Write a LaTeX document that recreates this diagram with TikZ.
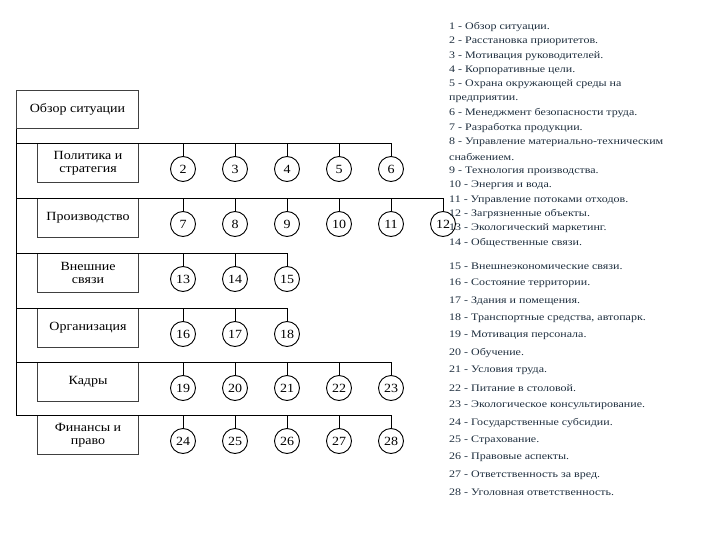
\documentclass[tikz,border=0pt]{standalone}
\usepackage{fontspec}
\setmainfont{Liberation Serif}
\newfontfamily\listfont{Liberation Serif}[FakeStretch=1.2]
\newfontfamily\boxfont{Liberation Serif}[FakeStretch=1.12]
\usetikzlibrary{positioning}
\definecolor{listtext}{HTML}{1E2E3E}

\begin{document}
\begin{tikzpicture}[x=1pt, y=-1pt,
    block/.style={rectangle, draw=black!75, line width=1.1pt, minimum width=101pt, minimum height=39pt, align=center, inner sep=2pt, font=\boxfont\fontsize{12.5}{13}\selectfont},
    num/.style={circle, draw, line width=0.9pt, minimum size=25pt, inner sep=0pt, font=\boxfont\fontsize{12.5}{13}\selectfont},
    link/.style={line width=0.9pt},
    item/.style={anchor=west, inner sep=0pt, text=listtext, font=\listfont\fontsize{10}{11}\selectfont}
]

\useasboundingbox (0,0) rectangle (720,540);

% Overview block and spine
\node[block, minimum width=122pt, minimum height=38pt, anchor=north west] (overview) at (16,90) {Обзор ситуации};

% Row blocks
\foreach \y/\name/\txt in {143/policy/{Политика и\\стратегия}, 198/prod/{Производство}, 253/ext/{Внешние\\связи}, 308/org/{Организация}, 362/staff/{Кадры}, 415/fin/{Финансы и\\право}}
  \node[block, anchor=north west] (\name) at (37,\y) {\txt};

% Rows of numbered circles
\foreach \y/\first/\last [count=\r] in {143/2/6, 198/7/12, 253/13/15, 308/16/18, 362/19/23, 415/24/28} {
  \coordinate (r\r) at (16,\y);
  \foreach \n in {\first,...,\last} {
    \node[num] (c\n) at ({183+52*(\n-\first)}, \y+26) {\n};
    \draw[link] (c\n.north) -- (c\n.north |- r\r);
  }
  \draw[link] (r\r) -| (c\last.north);
}
\draw[link] (overview.south west) -- (r6);

% Legend
\foreach \txt [count=\k from 0] in {{1 - Обзор ситуации.}, {2 - Расстановка приоритетов.}, {3 - Мотивация руководителей.}, {4 - Корпоративные цели.}, {5 - Охрана окружающей среды на}, {предприятии.}, {6 - Менеджмент безопасности труда.}, {7 - Разработка продукции.}, {8 - Управление материально-техническим}, {снабжением.}, {9 - Технология производства.}, {10 - Энергия и вода.}, {11 - Управление потоками отходов.}, {12 - Загрязненные объекты.}, {13 - Экологический маркетинг.}, {14 - Общественные связи.}}
  \node[item] (ta\k) at (449, {27+14.4*\k}) {\txt};

\foreach \txt [count=\k from 0] in {{15 - Внешнеэкономические связи.}, {16 - Состояние территории.}, {17 - Здания и помещения.}, {18 - Транспортные средства, автопарк.}, {19 - Мотивация персонала.}, {20 - Обучение.}, {21 - Условия труда.}, {22 - Питание в столовой.}, {23 - Экологическое консультирование.}, {24 - Государственные субсидии.}, {25 - Страхование.}, {26 - Правовые аспекты.}, {27 - Ответственность за вред.}, {28 - Уголовная ответственность.}}
  \node[item] (tb\k) at (449, {266+17.4*\k}) {\txt};

\end{tikzpicture}
\end{document}
